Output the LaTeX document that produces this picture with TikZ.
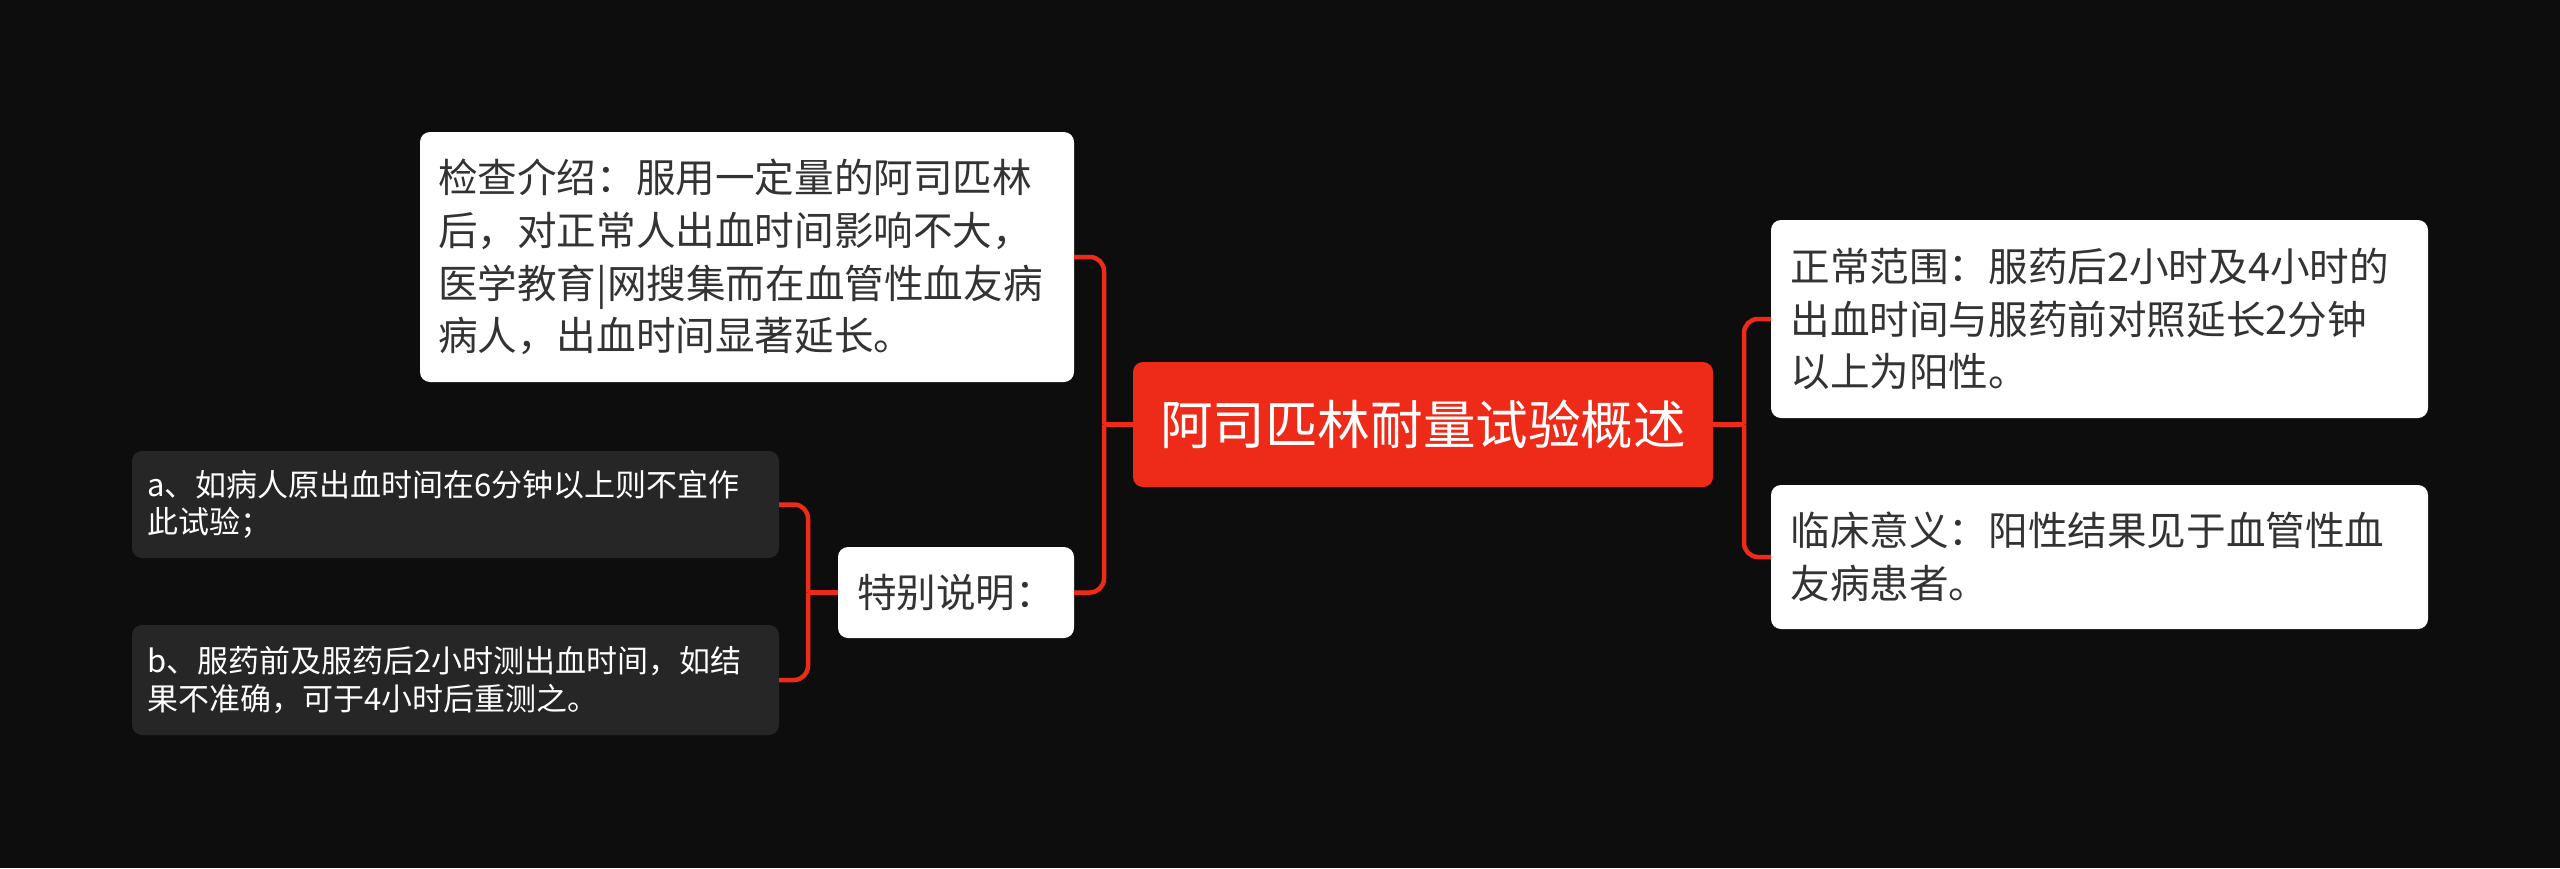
\documentclass[tikz,border=0pt]{standalone}
\usepackage{fontspec}
\setmainfont{Noto Sans CJK SC}
\definecolor{bg}{HTML}{0D0D0D}
\definecolor{myred}{HTML}{EE2A18}
\definecolor{darkbox}{HTML}{262626}
\definecolor{txt}{HTML}{333333}
\begin{document}
\begin{tikzpicture}[x=1pt,y=-1pt,
 wbox/.style={fill=white, rounded corners=10pt, inner sep=0pt, align=left, text=txt},
 dbox/.style={fill=darkbox, rounded corners=10pt, inner sep=0pt, align=left, text=white},
 bigfont/.style={font=\fontsize{39.6pt}{52.8pt}\selectfont},
 smallfont/.style={font=\fontsize{31pt}{37.5pt}\selectfont},
 conn/.style={draw=myred, line width=4.5pt, rounded corners=14pt}]
\fill[bg] (0,0) rectangle (2560,868);
\useasboundingbox (0,0) rectangle (2560,868);

\node[fill=myred, rounded corners=10pt, inner sep=0pt, minimum width=580pt, minimum height=125pt, text=white, font=\fontsize{52.6pt}{60pt}\selectfont] (c) at (1423,424.5) {阿司匹林耐量试验概述};

\node[wbox, bigfont, minimum width=654pt, minimum height=250pt, text width=618pt] (b1) at (747,257) {检查介绍：服用一定量的阿司匹林\\后，对正常人出血时间影响不大，\\医学教育|网搜集而在血管性血友病\\病人，出血时间显著延长。};

\node[wbox, bigfont, minimum width=236pt, minimum height=91pt, text width=198pt] (sp) at (956,592.5) {特别说明：};

\node[dbox, smallfont, minimum width=647pt, minimum height=107pt, text width=617pt] (a) at (455.5,504.5) {a、如病人原出血时间在6分钟以上则不宜作\\此试验；};

\node[dbox, smallfont, minimum width=647pt, minimum height=110pt, text width=617pt] (b) at (455.5,680) {b、服药前及服药后2小时测出血时间，如结\\果不准确，可于4小时后重测之。};

\node[wbox, bigfont, minimum width=657pt, minimum height=198pt, text width=618pt] (r1) at (2099.5,319) {正常范围：服药后2小时及4小时的\\出血时间与服药前对照延长2分钟\\以上为阳性。};

\node[wbox, bigfont, minimum width=657pt, minimum height=144pt, text width=618pt] (r2) at (2099.5,557) {临床意义：阳性结果见于血管性血\\友病患者。};

\coordinate (tl) at (1104,424.5);
\coordinate (tr) at (1744,424.5);
\coordinate (ts) at (808,592.5);

\draw[conn] (c.west) -- (tl);
\draw[conn] (tl) |- (b1.east);
\draw[conn] (tl) |- (sp.east);
\draw[conn] (c.east) -- (tr);
\draw[conn] (tr) |- (r1.west);
\draw[conn] (tr) |- (r2.west);
\draw[conn] (sp.west) -- (ts);
\draw[conn] (ts) |- (a.east);
\draw[conn] (ts) |- (b.east);
\end{tikzpicture}
\end{document}
